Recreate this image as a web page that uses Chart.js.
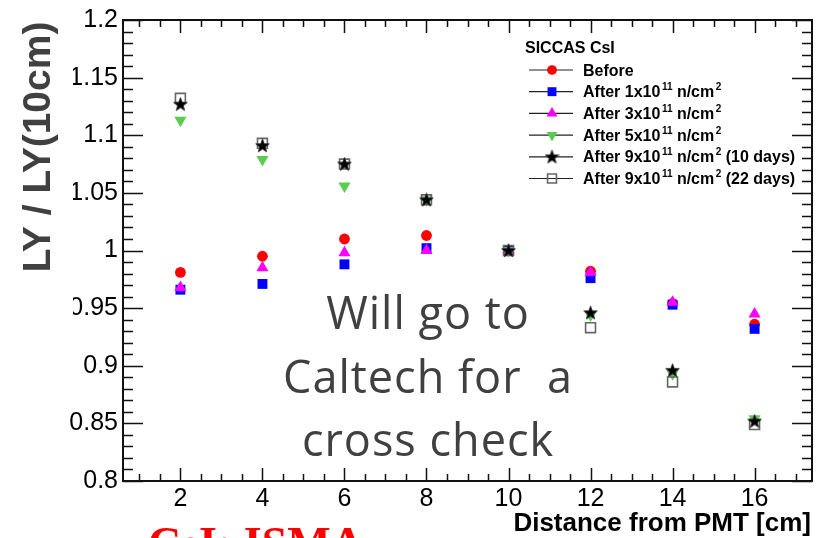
<!DOCTYPE html>
<html>
<head>
<meta charset="utf-8">
<script src="https://cdn.jsdelivr.net/npm/chart.js@4.4.1/dist/chart.umd.min.js"></script>
<style>
  html, body { margin: 0; padding: 0; background: #fff; overflow: hidden; }
  #wrap { position: relative; width: 821px; height: 538px; }
</style>
</head>
<body>
<div id="wrap"><canvas id="ly" width="821" height="538"></canvas></div>
<script>
// 距離ごとの相対光量 LY / LY(10cm)
const distances = [2, 4, 6, 8, 10, 12, 14, 16];
const before    = [0.981, 0.995, 1.010, 1.013, 1.000, 0.982, 0.954, 0.936];
const after1    = [0.966, 0.971, 0.988, 1.002, 1.000, 0.976, 0.953, 0.932];
const after3    = [0.968, 0.985, 0.998, 1.000, 1.000, 0.981, 0.955, 0.945];
const after5    = [1.113, 1.079, 1.056, 1.044, 1.000, 0.944, 0.893, 0.854];
const after9d10 = [1.127, 1.091, 1.075, 1.044, 1.000, 0.946, 0.896, 0.852];
const after9d22 = [1.132, 1.093, 1.075, 1.044, 1.000, 0.933, 0.886, 0.849];

const xTicks = [2, 4, 6, 8, 10, 12, 14, 16];
const yTicks = [0.8, 0.85, 0.9, 0.95, 1.0, 1.05, 1.1, 1.15, 1.2];

const legendTitle = "SICCAS CsI";
// 凡例テキスト: [本文, 上付き] の組で並べる (表示順)
const legendLabels = [
    [["Before", null]],
    [["After 1x10", "11"], [" n/cm", "2"]],
    [["After 3x10", "11"], [" n/cm", "2"]],
    [["After 5x10", "11"], [" n/cm", "2"]],
    [["After 9x10", "11"], [" n/cm", "2"], [" (10 days)", null]],
    [["After 9x10", "11"], [" n/cm", "2"], [" (22 days)", null]],
];
const noteLines = ["Will go to", "Caltech for  a", "cross check"];
const bottomNote = "CsI: ISMA";

const FONT = "'Liberation Sans', Arial, Helvetica, sans-serif";

// 塗りつぶしの星マーカー
function makeStar(size, color) {
    const c = document.createElement('canvas');
    c.width = size; c.height = size;
    const g = c.getContext('2d');
    const cx = size / 2, cy = size / 2 + 0.5;
    const ro = size / 2 - 0.3, ri = ro * 0.42;
    g.beginPath();
    for (let i = 0; i < 10; i++) {
        const r = i % 2 === 0 ? ro : ri;
        const a = -Math.PI / 2 + i * Math.PI / 5;
        g.lineTo(cx + r * Math.cos(a), cy + r * Math.sin(a));
    }
    g.closePath();
    g.fillStyle = color;
    g.fill();
    g.strokeStyle = '#333';
    g.lineWidth = 0.8;
    g.stroke();
    return c;
}
const starImg = makeStar(15, '#000');

function pts(values) {
    return distances.map((d, i) => ({ x: d, y: values[i] }));
}

// 凡例と同じ順に並べる。order が小さいほど手前に描かれる
const datasets = [
    { data: pts(before),    pointStyle: 'circle',   pointRadius: 5.4, backgroundColor: '#ff0000', borderColor: '#ff0000', pointRotation: 0,   pointBorderWidth: 0,   order: 6 },
    { data: pts(after1),    pointStyle: 'rect',     pointRadius: 7,   backgroundColor: '#0000ff', borderColor: '#0000ff', pointRotation: 0,   pointBorderWidth: 0,   order: 5 },
    { data: pts(after3),    pointStyle: 'triangle', pointRadius: 7,   backgroundColor: '#ff00ff', borderColor: '#ff00ff', pointRotation: 0,   pointBorderWidth: 0,   order: 4 },
    { data: pts(after5),    pointStyle: 'triangle', pointRadius: 7,   backgroundColor: '#5ccc50', borderColor: '#5ccc50', pointRotation: 180, pointBorderWidth: 0,   order: 3 },
    { data: pts(after9d10), pointStyle: starImg,    pointRadius: 7,   backgroundColor: '#000', borderColor: '#000', pointRotation: 0,   pointBorderWidth: 0,   order: 1 },
    { data: pts(after9d22), pointStyle: 'rect',     pointRadius: 7,   backgroundColor: 'rgba(0,0,0,0)', borderColor: '#666', pointRotation: 0, pointBorderWidth: 1.6, order: 2 },
];

// 枠と内向きの目盛り
const framePlugin = {
    id: 'frame',
    beforeDatasetsDraw(chart) {
        const { ctx, chartArea: a, scales } = chart;
        const xs = scales.x, ys = scales.y;
        ctx.save();
        ctx.strokeStyle = '#111';
        ctx.lineWidth = 1.5;
        ctx.beginPath();
        // x: 0.5 刻み、偶数は長め
        for (let v = 1; v <= 17; v += 0.5) {
            const px = Math.round(xs.getPixelForValue(v)) + 0.5;
            const len = v % 2 === 0 ? 13 : 7;
            ctx.moveTo(px, a.bottom); ctx.lineTo(px, a.bottom - len);
            ctx.moveTo(px, a.top); ctx.lineTo(px, a.top + len);
        }
        // y: 0.01 刻み、0.05 毎に長め
        for (let k = 0; k <= 40; k++) {
            const v = 0.8 + k * 0.01;
            const py = Math.round(ys.getPixelForValue(v)) + 0.5;
            const len = k % 5 === 0 ? 20 : 10;
            ctx.moveTo(a.left, py); ctx.lineTo(a.left + len, py);
            ctx.moveTo(a.right, py); ctx.lineTo(a.right - len, py);
        }
        ctx.stroke();
        ctx.lineWidth = 2;
        ctx.strokeRect(a.left, a.top, a.right - a.left, a.bottom - a.top);
        ctx.restore();
    },
    afterDraw(chart) {
        const { ctx } = chart;
        ctx.save();

        // 縦軸タイトル (背景を白で塗ってから描く)
        ctx.fillStyle = '#fff';
        ctx.fillRect(0, 0, 73, 335);
        ctx.translate(50, 147);
        ctx.rotate(-Math.PI / 2);
        ctx.fillStyle = '#404040';
        ctx.font = "bold 39px " + FONT;
        ctx.textAlign = 'center';
        ctx.textBaseline = 'alphabetic';
        ctx.fillText("LY / LY(10cm)", 0, 0);
        ctx.setTransform(1, 0, 0, 1, 0, 0);

        // 横軸タイトル
        ctx.fillStyle = '#000';
        ctx.font = "bold 26px " + FONT;
        ctx.textAlign = 'right';
        ctx.fillText("Distance from PMT [cm]", 811, 531);

        // 凡例
        ctx.textAlign = 'left';
        ctx.font = "bold 16px " + FONT;
        ctx.fillText(legendTitle, 525, 53);
        datasets.forEach((ds, row) => {
            const y = 70 + row * 21.7;
            ctx.strokeStyle = '#222';
            ctx.lineWidth = 1.2;
            ctx.beginPath();
            ctx.moveTo(529, y); ctx.lineTo(573, y);
            ctx.stroke();
            ctx.fillStyle = ds.backgroundColor;
            ctx.strokeStyle = ds.borderColor;
            ctx.lineWidth = ds.pointBorderWidth || 0.01;
            Chart.helpers.drawPoint(ctx, {
                pointStyle: ds.pointStyle,
                rotation: ds.pointRotation,
                radius: ds.pointRadius * 0.9,
                borderWidth: ds.pointBorderWidth,
            }, 552, y);
            let x = 583;
            const base = y + 5.5;
            ctx.fillStyle = '#000';
            legendLabels[row].forEach(([txt, sup]) => {
                ctx.font = "bold 16px " + FONT;
                ctx.fillText(txt, x, base);
                x += ctx.measureText(txt).width;
                if (sup) {
                    ctx.font = "bold 10px " + FONT;
                    x += 1.5;
                    ctx.fillText(sup, x, base - 7);
                    x += ctx.measureText(sup).width;
                }
            });
        });

        // 中央の注記
        ctx.fillStyle = '#404040';
        ctx.font = "45px 'Open Sans', Lato, sans-serif";
        ctx.letterSpacing = '1px';
        ctx.textAlign = 'center';
        noteLines.forEach((t, i) => ctx.fillText(t, 428, 329 + i * 63.5));
        ctx.letterSpacing = '0px';

        // 下端の赤字 (上半分だけ見える)
        ctx.fillStyle = '#ff0000';
        ctx.font = "bold 46px 'Liberation Serif', 'Times New Roman', serif";
        ctx.textAlign = 'left';
        ctx.fillText(bottomNote, 148, 559);

        ctx.restore();
    }
};

const fmt = v => String(parseFloat(Number(v).toFixed(2)));

new Chart(document.getElementById('ly'), {
    type: 'scatter',
    data: { datasets },
    options: {
        responsive: false,
        animation: false,
        events: [],
        layout: { padding: { top: 14, right: 9, left: 0, bottom: 0 } },
        plugins: { legend: { display: false }, tooltip: { enabled: false } },
        scales: {
            x: {
                type: 'linear',
                min: 0.6,
                max: 17.4,
                afterBuildTicks: s => { s.ticks = xTicks.map(v => ({ value: v })); },
                afterFit: s => { s.height = 57; },
                grid: { display: false, drawTicks: false },
                border: { display: false },
                ticks: { color: '#000', padding: 3, font: { family: FONT, size: 25 }, callback: fmt, maxRotation: 0 },
            },
            y: {
                type: 'linear',
                min: 0.8,
                max: 1.2,
                afterBuildTicks: s => { s.ticks = yTicks.map(v => ({ value: v })); },
                afterFit: s => { s.width = 123; },
                grid: { display: false, drawTicks: false },
                border: { display: false },
                ticks: { color: '#000', padding: 5, font: { family: FONT, size: 25 }, callback: fmt },
            },
        },
    },
    plugins: [framePlugin],
});
</script>
</body>
</html>
